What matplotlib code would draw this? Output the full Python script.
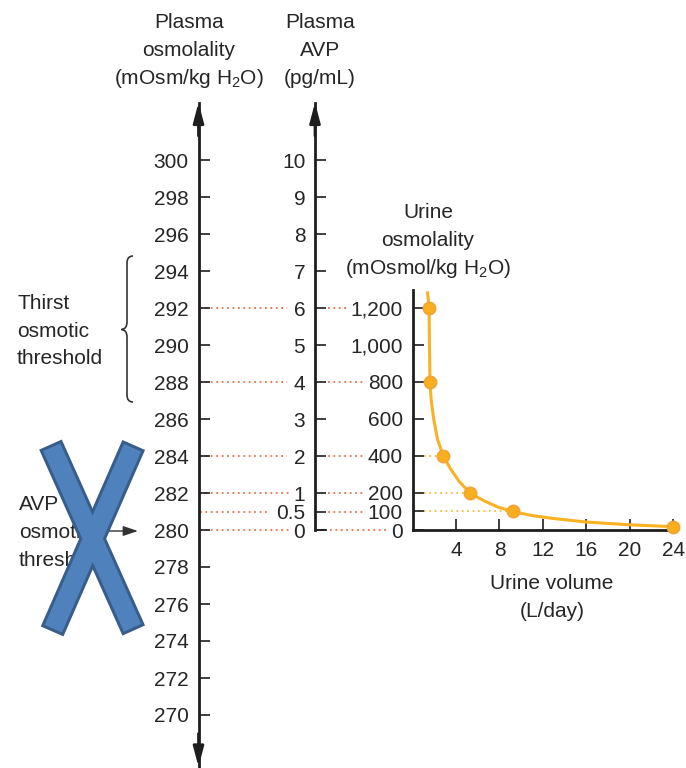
import numpy as np
import matplotlib
matplotlib.use("Agg")
import matplotlib.pyplot as plt
from matplotlib.path import Path
from matplotlib.patches import PathPatch, Polygon

plt.rcParams['font.family'] = ['Liberation Sans', 'DejaVu Sans']
plt.rcParams['mathtext.fontset'] = 'custom'
plt.rcParams['mathtext.rm'] = 'Liberation Sans'
plt.rcParams['mathtext.it'] = 'Liberation Sans:italic'

# ---- data ----
plasma_ticks = list(range(270, 301, 2))
avp_ticks = [0, 0.5, 1, 2, 3, 4, 5, 6, 7, 8, 9, 10]
avp_labels = ["0", "0.5", "1", "2", "3", "4", "5", "6", "7", "8", "9", "10"]
urine_ticks = [0, 100, 200, 400, 600, 800, 1000, 1200]
urine_labels = ["0", "100", "200", "400", "600", "800", "1,000", "1,200"]
volume_ticks = [4, 8, 12, 16, 20, 24]

# linked levels (plasma osmolality -> AVP -> urine osmolality)
plasma_marks = [292, 288, 284, 282, 281, 280]
avp_marks = [6, 4, 2, 1, 0.5, 0]

point_volume = [1.52, 1.61, 2.83, 5.29, 9.21, 24.0]
point_osm = [1200, 800, 400, 200, 100, 18]

curve_volume = [1.36, 1.45, 1.52, 1.56, 1.61, 1.72, 1.95, 2.3, 2.83, 3.5, 4.3,
                5.29, 6.5, 7.8, 9.21, 11.0, 13.0, 16.0, 20.0, 24.0]
curve_osm = [1290, 1250, 1200, 1000, 800, 700, 600, 490, 400, 330, 262,
             200, 160, 125, 100, 78, 62, 43, 28, 18]

# ---- layout helpers (pixel space of a 686x768 image) ----
W, H = 686, 768
def box(l, t, r, b):
    return [l / W, 1 - b / H, (r - l) / W, (b - t) / H]

ink = '#1e1e1e'
txt = '#262626'
red_dot = '#EC6F4A'
yel_dot = '#F8BD3A'
orange = '#F9B224'
fs = 15

fig = plt.figure(figsize=(6.86, 7.68), dpi=100)

def style_axis(ax):
    for s in ['top', 'right', 'bottom']:
        ax.spines[s].set_visible(False)
    ax.spines['left'].set_linewidth(2)
    ax.spines['left'].set_color(ink)
    ax.set_xticks([])
    ax.patch.set_visible(False)
    ax.tick_params(axis='y', direction='in', length=8, width=1.2, pad=7,
                   labelsize=fs, colors=ink, labelcolor=txt)

def arrow_tip(ax, y0, y1):
    ax.annotate('', xy=(0, y1), xytext=(0, y0), xycoords='axes fraction',
                arrowprops=dict(arrowstyle='-|>,head_length=1.2,head_width=0.32',
                                mutation_scale=10, lw=2, color=ink,
                                shrinkA=0, shrinkB=0))

# plasma osmolality axis
ax_p = fig.add_axes(box(198.5, 102.65, 315, 766.8))
ax_p.set_ylim(267.2, 303.1)
ax_p.set_xlim(0, 1)
style_axis(ax_p)
ax_p.set_yticks(plasma_ticks)
arrow_tip(ax_p, 0.95, 1.0)
arrow_tip(ax_p, 0.05, 0.0)

pw = 315 - 198.5
p_ends = [287, 287, 287, 290, 270, 290]
for lev, e in zip(plasma_marks, p_ends):
    ax_p.plot([(200 - 198.5) / pw, (e - 198.5) / pw], [lev, lev],
              color=red_dot, lw=1.3, ls=(0, (1, 2)), zorder=1)

# plasma AVP axis (same vertical scale: AVP = (osm - 280) / 2)
ax_a = fig.add_axes(box(315, 102.65, 412.5, 766.8))
ax_a.set_ylim((267.2 - 280) / 2, (303.1 - 280) / 2)
ax_a.set_xlim(0, 1)
style_axis(ax_a)
ax_a.spines['left'].set_bounds(0, (303.1 - 280) / 2)
ax_a.set_yticks(avp_ticks)
ax_a.set_yticklabels(avp_labels)
arrow_tip(ax_a, 0.95, 1.0)
ax_a.plot([0, (327 - 315) / 97.5], [0, 0], color=ink, lw=1.2,
          solid_capstyle='butt')

aw = 412.5 - 315
a_ends = [348, 365, 365, 365, 365, 387]
for lev, e in zip(avp_marks, a_ends):
    s = 330 if lev == 0 else 328
    ax_a.plot([(s - 315) / aw, (e - 315) / aw], [lev, lev],
              color=red_dot, lw=1.3, ls=(0, (1, 2)), zorder=1)

# urine osmolality vs urine volume
ax_u = fig.add_axes(box(412.5, 290, 675, 530))
ax_u.set_xlim(0, 24.15)
ax_u.set_ylim(0, 1297)
ax_u.patch.set_visible(False)
for s in ['top', 'right']:
    ax_u.spines[s].set_visible(False)
for s in ['left', 'bottom']:
    ax_u.spines[s].set_linewidth(2)
    ax_u.spines[s].set_color(ink)
ax_u.set_yticks(urine_ticks)
ax_u.set_yticklabels(urine_labels)
ax_u.set_xticks(volume_ticks)
ax_u.tick_params(direction='in', length=8, width=1.2, pad=7,
                 labelsize=fs, colors=ink, labelcolor=txt)
ax_u.tick_params(axis='x', pad=8)

for v, o in zip(point_volume[2:5], point_osm[2:5]):
    ax_u.plot([0, v], [o, o], color=yel_dot, lw=1.3, ls=(0, (1, 2)), zorder=1)
ax_u.plot(curve_volume, curve_osm, color=orange, lw=2.2, zorder=2,
          clip_on=False, solid_capstyle='butt')
ax_u.plot(point_volume, point_osm, 'o', ms=9, mfc='#F8AE1E', mec='#F0A43A',
          mew=1, zorder=3, clip_on=False)

# ---- overlay in pixel coordinates: titles, notes, brace, cross ----
ov = fig.add_axes([0, 0, 1, 1])
ov.set_xlim(0, W)
ov.set_ylim(H, 0)
ov.axis('off')

def lines(x, baselines, words, ha='center'):
    for b, w in zip(baselines, words):
        ov.text(x, b, w, ha=ha, va='baseline', fontsize=fs, color=txt)

lines(189, [27.5, 55.5, 83.5], ["Plasma", "osmolality", r"(mOsm/kg H$_2$O)"])
lines(320, [27.5, 55.5, 83.5], ["Plasma", "AVP", "(pg/mL)"])
lines(428, [217.5, 245.5, 273.5], ["Urine", "osmolality", r"(mOsmol/kg H$_2$O)"])
lines(552, [589, 617], ["Urine volume", "(L/day)"])
lines(17, [309, 337, 364], ["Thirst", "osmotic", "threshold"], ha='left')
lines(19, [510, 538, 566], ["AVP", "osmotic", "threshold"], ha='left')

brace = Path([(133, 256), (127, 256), (127, 263), (127, 322),
              (127, 329), (121.5, 329.5), (127, 330), (127, 337),
              (127, 395), (127, 402), (133, 402)],
             [Path.MOVETO, Path.CURVE3, Path.CURVE3, Path.LINETO,
              Path.CURVE3, Path.CURVE3, Path.CURVE3, Path.CURVE3,
              Path.LINETO, Path.CURVE3, Path.CURVE3])
ov.add_patch(PathPatch(brace, fill=False, lw=1.2, color='#333333'))

ov.annotate('', xy=(138, 531), xytext=(107, 531),
            arrowprops=dict(arrowstyle='-|>,head_length=0.9,head_width=0.3',
                            mutation_scale=10, lw=1, color='#333333',
                            shrinkA=0, shrinkB=0))

def arm(p0, p1, hw):
    p0, p1 = np.array(p0, float), np.array(p1, float)
    d = p1 - p0
    n = np.array([-d[1], d[0]]) / np.hypot(*d) * hw
    return [p0 + n, p1 + n, p1 - n, p0 - n]

arms = [arm((51.7, 447.3), (132.5, 627.8), 9.4),
        arm((132.5, 447.7), (53.3, 628.7), 9.4)]
for a in arms:
    ov.add_patch(Polygon(a, closed=True, fc='#4F81BD', ec='#385D8A',
                         lw=4.3, joinstyle='miter', zorder=10))
for a in arms:
    ov.add_patch(Polygon(a, closed=True, fc='#4F81BD', ec='none', zorder=11))

fig.savefig('out.png', dpi=100)
